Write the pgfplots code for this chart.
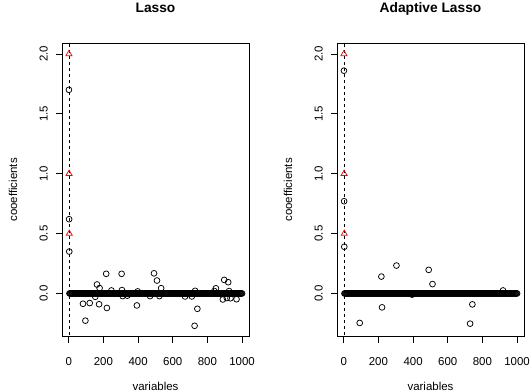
\documentclass[border=0pt]{standalone}
\usepackage{pgfplots}
\pgfplotsset{compat=1.18}
\usepackage{pgfplotstable}
\usepackage{fontspec}
\setmainfont{Liberation Sans}

\pgfplotstableread[row sep=\\]{
x y\\
4 0\\ 8 0\\ 12 0\\ 16 0\\ 20 0\\ 24 0\\ 28 0\\ 32 0\\ 36 0\\ 40 0\\ 44 0\\ 48 0\\ 52 0\\ 56 0\\ 60 0\\ 64 0\\ 68 0\\ 72 0\\ 76 0\\ 80 0\\
84 0\\ 88 0\\ 92 0\\ 96 0\\ 100 0\\ 104 0\\ 108 0\\ 112 0\\ 116 0\\ 120 0\\ 124 0\\ 128 0\\ 132 0\\ 136 0\\ 140 0\\ 144 0\\ 148 0\\ 152 0\\ 156 0\\ 160 0\\
164 0\\ 168 0\\ 172 0\\ 176 0\\ 180 0\\ 184 0\\ 188 0\\ 192 0\\ 196 0\\ 200 0\\ 204 0\\ 208 0\\ 212 0\\ 216 0\\ 220 0\\ 224 0\\ 228 0\\ 232 0\\ 236 0\\ 240 0\\
244 0\\ 248 0\\ 252 0\\ 256 0\\ 260 0\\ 264 0\\ 268 0\\ 272 0\\ 276 0\\ 280 0\\ 284 0\\ 288 0\\ 292 0\\ 296 0\\ 300 0\\ 304 0\\ 308 0\\ 312 0\\ 316 0\\ 320 0\\
324 0\\ 328 0\\ 332 0\\ 336 0\\ 340 0\\ 344 0\\ 348 0\\ 352 0\\ 356 0\\ 360 0\\ 364 0\\ 368 0\\ 372 0\\ 376 0\\ 380 0\\ 384 0\\ 388 0\\ 392 0\\ 396 0\\ 400 0\\
404 0\\ 408 0\\ 412 0\\ 416 0\\ 420 0\\ 424 0\\ 428 0\\ 432 0\\ 436 0\\ 440 0\\ 444 0\\ 448 0\\ 452 0\\ 456 0\\ 460 0\\ 464 0\\ 468 0\\ 472 0\\ 476 0\\ 480 0\\
484 0\\ 488 0\\ 492 0\\ 496 0\\ 500 0\\ 504 0\\ 508 0\\ 512 0\\ 516 0\\ 520 0\\ 524 0\\ 528 0\\ 532 0\\ 536 0\\ 540 0\\ 544 0\\ 548 0\\ 552 0\\ 556 0\\ 560 0\\
564 0\\ 568 0\\ 572 0\\ 576 0\\ 580 0\\ 584 0\\ 588 0\\ 592 0\\ 596 0\\ 600 0\\ 604 0\\ 608 0\\ 612 0\\ 616 0\\ 620 0\\ 624 0\\ 628 0\\ 632 0\\ 636 0\\ 640 0\\
644 0\\ 648 0\\ 652 0\\ 656 0\\ 660 0\\ 664 0\\ 668 0\\ 672 0\\ 676 0\\ 680 0\\ 684 0\\ 688 0\\ 692 0\\ 696 0\\ 700 0\\ 704 0\\ 708 0\\ 712 0\\ 716 0\\ 720 0\\
724 0\\ 728 0\\ 732 0\\ 736 0\\ 740 0\\ 744 0\\ 748 0\\ 752 0\\ 756 0\\ 760 0\\ 764 0\\ 768 0\\ 772 0\\ 776 0\\ 780 0\\ 784 0\\ 788 0\\ 792 0\\ 796 0\\ 800 0\\
804 0\\ 808 0\\ 812 0\\ 816 0\\ 820 0\\ 824 0\\ 828 0\\ 832 0\\ 836 0\\ 840 0\\ 844 0\\ 848 0\\ 852 0\\ 856 0\\ 860 0\\ 864 0\\ 868 0\\ 872 0\\ 876 0\\ 880 0\\
884 0\\ 888 0\\ 892 0\\ 896 0\\ 900 0\\ 904 0\\ 908 0\\ 912 0\\ 916 0\\ 920 0\\ 924 0\\ 928 0\\ 932 0\\ 936 0\\ 940 0\\ 944 0\\ 948 0\\ 952 0\\ 956 0\\ 960 0\\
964 0\\ 968 0\\ 972 0\\ 976 0\\ 980 0\\ 984 0\\ 988 0\\ 992 0\\ 996 0\\ 1000 0\\
}\zeros

\pgfplotstableread[row sep=\\]{
x y\\
1 2.0\\ 2 1.0\\ 3 0.5\\
}\truth

\pgfplotstableread[row sep=\\]{
x y\\
1 1.70\\ 2 0.62\\ 3 0.35\\
82 -0.086\\ 96 -0.227\\ 121 -0.080\\ 153 -0.028\\ 163 0.075\\ 175 -0.090\\ 178 0.045\\
216 0.164\\ 220 -0.121\\ 246 0.025\\ 305 0.164\\ 307 0.028\\ 311 -0.022\\ 338 -0.018\\
393 -0.100\\ 398 0.017\\ 469 -0.022\\ 492 0.168\\ 509 0.108\\ 523 -0.022\\ 533 0.044\\
671 -0.025\\ 710 -0.025\\ 726 -0.270\\ 729 0.022\\ 742 -0.128\\ 840 0.020\\ 849 0.043\\
889 -0.050\\ 897 0.113\\ 912 -0.038\\ 920 0.094\\ 925 0.020\\ 933 -0.040\\ 968 -0.048\\
}\lasso

\pgfplotstableread[row sep=\\]{
x y\\
1 1.86\\ 2 0.77\\ 3 0.39\\
92 -0.246\\ 217 0.141\\ 221 -0.116\\ 304 0.233\\ 394 -0.010\\ 490 0.197\\ 512 0.078\\
729 -0.252\\ 742 -0.091\\ 919 0.025\\
}\alasso

\pgfplotstableread[row sep=\\]{
x y\\
2 -0.5\\ 2 2.2\\
}\vline

\pgfplotsset{
  rplot/.style={
    scale only axis,
    width=187bp, height=293.7bp,
    xmin=-38.96, xmax=1039.96,
    ymin=-0.361, ymax=2.091,
    xtick={0,200,...,1000},
    ytick={0,0.5,1,1.5,2},
    tick align=outside,
    xtick pos=left, ytick pos=left,
    major tick length=6bp,
    axis line style={line width=0.75bp},
    every tick/.style={black, line width=0.75bp},
    /pgf/number format/assume math mode=true,
    /pgf/number format/1000 sep={},
    xticklabel={\pgfmathprintnumber[fixed,precision=0,1000 sep={}]{\tick}},
    yticklabel={\pgfmathprintnumber[fixed,fixed zerofill,precision=1]{\tick}},
    xticklabel style={font=\fontsize{11.5}{13}\selectfont, inner sep=0pt, anchor=north, yshift=-15bp},
    yticklabel style={font=\fontsize{11.5}{13}\selectfont, inner sep=0pt, rotate=90, anchor=south, yshift=8bp},
    scaled ticks=false,
    title style={font=\fontsize{13.8}{16}\selectfont\bfseries, at={(0.5,1.0841)}, anchor=base},
    xlabel style={font=\fontsize{11.5}{13}\selectfont, at={(0.5,-0.1815)}, anchor=base},
    ylabel style={font=\fontsize{11.5}{13}\selectfont, at={(-0.2406,0.5)}, anchor=base, rotate=0},
    clip=true,
  },
  circ/.style={only marks, mark=o, mark size=2.9bp, black, line width=0.75bp},
  tri/.style={only marks, mark=triangle, mark size=3.5bp, red, line width=0.75bp},
  vdash/.style={black, line width=0.75bp, dash pattern=on 3bp off 3bp},
}

\begin{document}
\begin{tikzpicture}
\useasboundingbox (0,0) rectangle (531bp,392bp);
\begin{axis}[rplot, at={(62bp,55.3bp)}, anchor=south west,
  title={Lasso}, xlabel={variables}, ylabel={cooefficients}]
  \addplot[vdash] table[x=x,y=y] {\vline};
  \addplot[circ] table[x=x,y=y] {\zeros};
  \addplot[circ] table[x=x,y=y] {\lasso};
  \addplot[tri] table[x=x,y=y] {\truth};
\end{axis}
\begin{axis}[rplot, at={(337bp,55.3bp)}, anchor=south west,
  title={Adaptive Lasso}, xlabel={variables}, ylabel={cooefficients}]
  \addplot[vdash] table[x=x,y=y] {\vline};
  \addplot[circ] table[x=x,y=y] {\zeros};
  \addplot[circ] table[x=x,y=y] {\alasso};
  \addplot[tri] table[x=x,y=y] {\truth};
\end{axis}
\end{tikzpicture}
\end{document}
